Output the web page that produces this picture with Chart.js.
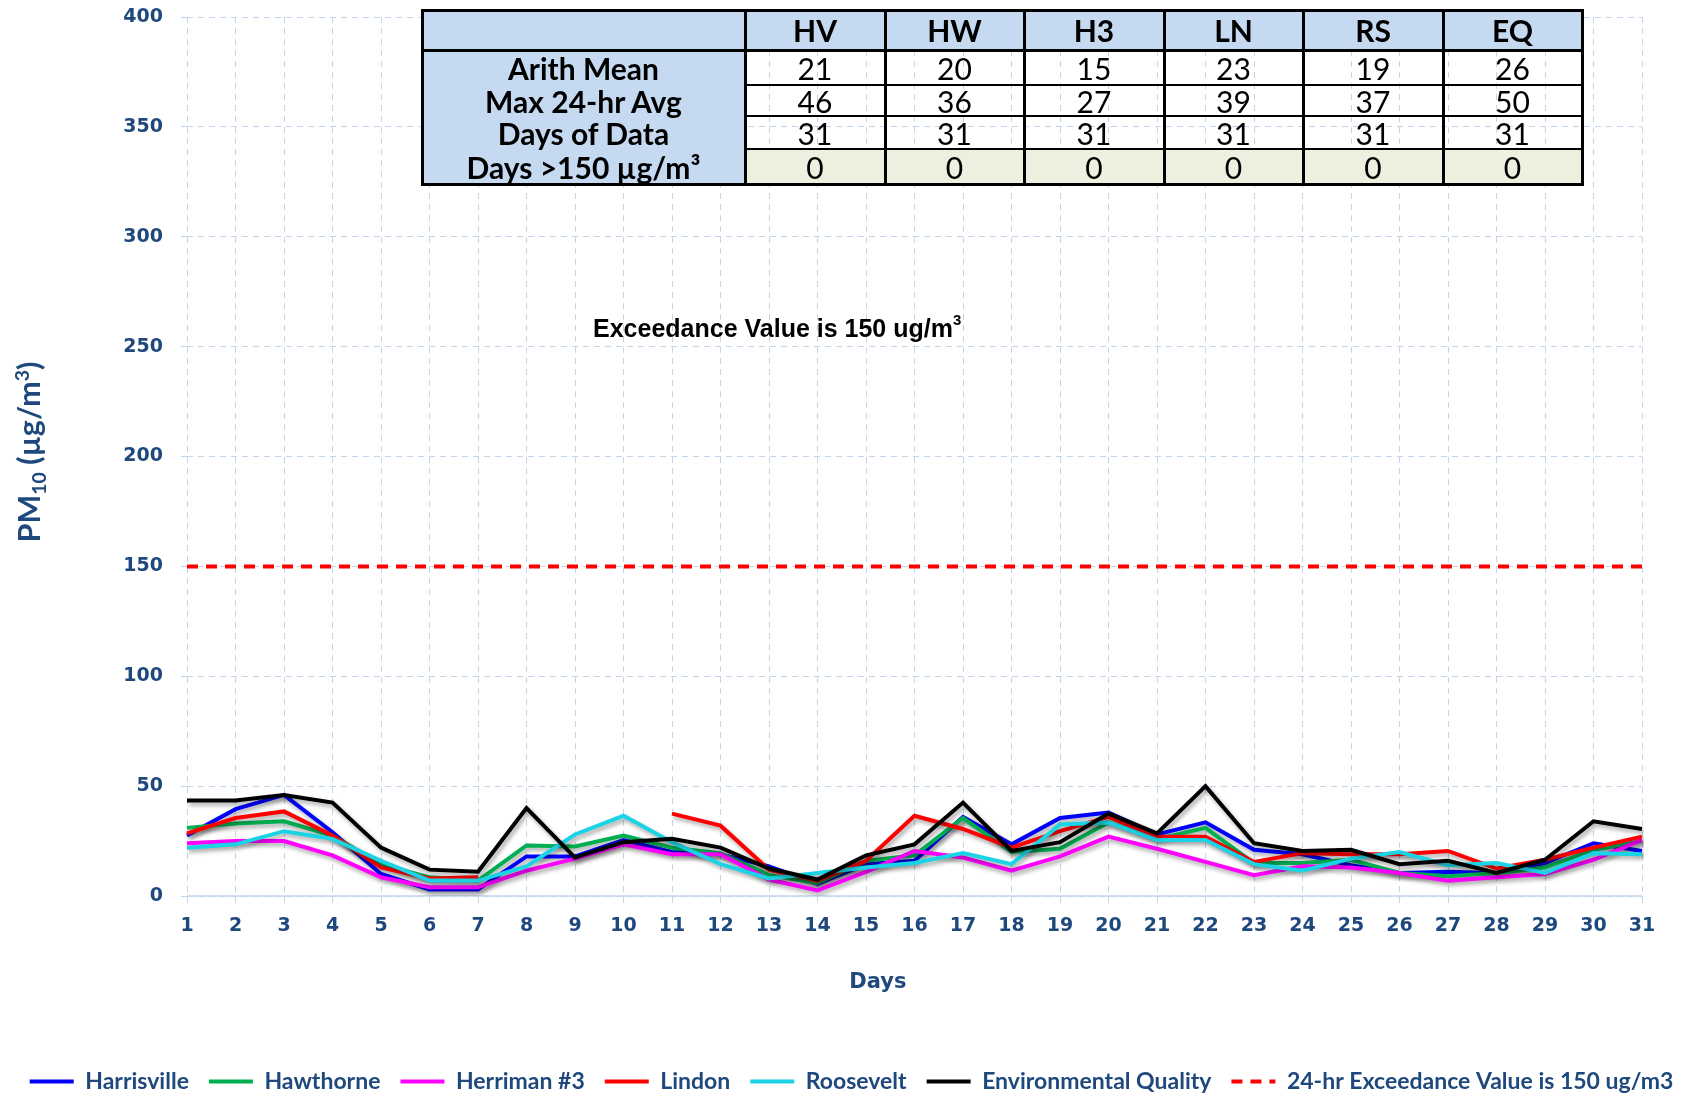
<!DOCTYPE html>
<html><head><meta charset="utf-8">
<script src="https://cdn.jsdelivr.net/npm/chart.js@4/dist/chart.umd.min.js"></script>
<style>
html,body{margin:0;padding:0;background:#fff;}
#wrap{position:relative;width:1703px;height:1098px;}
#c{position:absolute;left:0;top:0;}
#overlay{position:absolute;left:0;top:0;width:1703px;height:1098px;pointer-events:none;}
.cell{position:absolute;display:flex;align-items:center;justify-content:center;font-family:Lato,"Open Sans",sans-serif;font-size:30px;color:#000;white-space:nowrap;}
.bold{font-weight:bold;}
.ln{position:absolute;background:#000;}
#note{position:absolute;left:593px;top:314px;font:bold 25px "Liberation Sans",Arial,sans-serif;color:#000;white-space:nowrap;}
#note sup{font-size:15px;vertical-align:top;position:relative;top:-3px;}
</style></head>
<body><div id="wrap"><canvas id="c" width="1703" height="1098"></canvas><div id="overlay"></div><div id="note">Exceedance Value is 150 ug/m<sup>3</sup></div></div>
<script>
// ---- data ----
const days = ['1','2','3','4','5','6','7','8','9','10','11','12','13','14','15','16','17','18','19','20','21','22','23','24','25','26','27','28','29','30','31'];
const harrisville = [27.5,39.5,46,29,10,3,3,18,18,25.5,20,19,13.5,5.5,14.5,16,36,23.5,35.5,38,28,33.5,21,19,14,10.5,11,10.5,15,24,20.5];
const hawthorne   = [31,33,34,27.5,14.5,8.5,7,23,22.5,27.5,22,19.5,9.5,6,16,18.5,35.5,20,21.5,33.5,26,31,15,15,16.5,10.5,9,10.5,13,21,25];
const herriman3   = [24,25,25,18.5,8.5,4,4,11.5,17,23.5,19,19,7.5,2.5,11,20.5,17.5,11.5,18,27,21.5,15.5,9.5,13.5,13,10.5,7,8.5,10,16.5,25.5];
const lindon      = [28.5,35.5,38.5,27.5,13,8,8.5,null,null,null,37.5,32,12,7,16,36.5,30.5,22,29.5,36,27,27,15.5,19.5,19,19,20.5,12.5,16.5,22,27];
const roosevelt   = [22,23.5,29.5,26,16,7,7,13.5,28,36.5,24.5,14.5,8,10.5,13,15,19.5,14.5,32.5,33.5,25.5,25.5,14.5,11.5,17,20,14,15,10.5,19.5,19];
const envQuality  = [43.5,43.5,46,42.5,22,12,11,40,17.5,24.5,26,22,12.5,7.5,18.5,23.5,42.5,20.5,24.5,37.5,28.5,50,24,20.5,21,14.5,16,10.5,16.5,34,30.5];
const exceedance  = days.map(() => 150);
const seriesNames = ['Harrisville','Hawthorne','Herriman #3','Lindon','Roosevelt','Environmental Quality','24-hr Exceedance Value is 150 ug/m3'];
const yTicks = [0,50,100,150,200,250,300,350,400];

// table data
const stations   = ['HV','HW','H3','LN','RS','EQ'];
const rowLabels  = ['Arith Mean','Max 24-hr Avg','Days of Data','Days >150 µg/m³'];
const arithMean  = [21,20,15,23,19,26];
const max24hr    = [46,36,27,39,37,50];
const daysOfData = [31,31,31,31,31,31];
const daysOver   = [0,0,0,0,0,0];

// ---- styles ----
const colors = ['#0000ff','#00b050','#ff00ff','#ff0000','#1ad3e5','#000000','#ff0000'];
const textBlue = '#1f497d';
const gridBlue = '#c3d5ea';

const seriesData = [harrisville,hawthorne,herriman3,lindon,roosevelt,envQuality];
const datasets = seriesData.map((d,i) => ({
  label: seriesNames[i], data: d, borderColor: colors[i], backgroundColor: colors[i],
  borderWidth: 4, pointRadius: 0, tension: 0, fill: false, spanGaps: false, order: 10 - i
}));
datasets.push({label: seriesNames[6], data: exceedance, borderColor: colors[6], backgroundColor: colors[6],
  borderWidth: 4, borderDash: [11, 8], pointRadius: 0, fill: false, order: 0});

const shadowPlugin = {
  id: 'shadow',
  beforeDatasetDraw(chart, args) {
    if (args.index > 5) return;
    const ctx = chart.ctx; ctx.save();
    ctx.shadowColor = 'rgba(0,0,0,0.35)'; ctx.shadowBlur = 4; ctx.shadowOffsetX = 2; ctx.shadowOffsetY = 3;
  },
  afterDatasetDraw(chart, args) { if (args.index > 5) return; chart.ctx.restore(); }
};
const baseLine = {
  id: 'baseLine',
  beforeDatasetsDraw(chart) {
    const {ctx, chartArea: a} = chart; ctx.save();
    ctx.strokeStyle = gridBlue; ctx.lineWidth = 1.5; ctx.setLineDash([]);
    ctx.beginPath(); ctx.moveTo(a.left, a.bottom); ctx.lineTo(a.right, a.bottom); ctx.stroke(); ctx.restore();
  }
};
// rotated y-axis title with true subscript / superscript
const yTitle = {
  id: 'yTitle',
  afterDraw(chart) {
    const ctx = chart.ctx;
    const parts = [['PM', 0, 1], ['10', 1, 0.64], [' (µg/m', 0, 1], ['3', -1, 0.64], [')', 0, 1]];
    const target = 181, cx = 29, cy = 452;
    ctx.save();
    const measure = s => { let t = 0; parts.forEach(p => { ctx.font = `bold ${s * p[2]}px Lato`; t += ctx.measureText(p[0]).width; }); return t; };
    const size = 28 * target / measure(28);
    const total = measure(size);
    ctx.fillStyle = textBlue; ctx.textBaseline = 'alphabetic'; ctx.textAlign = 'left';
    ctx.translate(cx, cy); ctx.rotate(-Math.PI / 2);
    let x = -total / 2; const baseY = size * 0.36;
    parts.forEach(p => {
      ctx.font = `bold ${size * p[2]}px Lato`;
      const dy = p[1] === 1 ? size * 0.2 : (p[1] === -1 ? -size * 0.36 : 0);
      ctx.fillText(p[0], x, baseY + dy);
      x += ctx.measureText(p[0]).width;
    });
    ctx.restore();
  }
};

new Chart(document.getElementById('c'), {
  type: 'line',
  data: { labels: days, datasets },
  plugins: [shadowPlugin, baseLine, yTitle],
  options: {
    responsive: false, animation: false,
    layout: { autoPadding: false, padding: { left: 0, right: 0, top: 17, bottom: -5 } },
    plugins: {
      legend: {
        position: 'bottom',
        labels: {
          sort: (a, b) => a.datasetIndex - b.datasetIndex,
          generateLabels: chart => {
            const items = Chart.defaults.plugins.legend.labels.generateLabels(chart);
            items.forEach(it => {
              const ds = chart.data.datasets[it.datasetIndex];
              it.lineDash = ds.borderDash || []; it.lineWidth = ds.borderWidth;
              it.strokeStyle = ds.borderColor; it.fillStyle = ds.borderColor; it.pointStyle = 'line';
            });
            return items;
          },
          font: { family: 'Lato', weight: 'bold', size: 23 }, color: textBlue,
          usePointStyle: true, pointStyle: 'line', pointStyleWidth: 44, boxWidth: 44, boxHeight: 6, padding: 20
        }
      },
      tooltip: { enabled: false }
    },
    scales: {
      x: {
        type: 'category', offset: false,
        grid: { color: gridBlue, lineWidth: 1, tickLength: 7, tickColor: gridBlue },
        border: { display: false, dash: [6, 5] },
        ticks: { autoSkip: false, maxRotation: 0, padding: 12, color: textBlue,
          font: { family: 'DejaVu Sans', weight: 'bold', size: 19 } },
        title: { display: true, text: 'Days          ', color: textBlue, padding: { top: 0, bottom: 55 },
          font: { family: 'DejaVu Sans', weight: 'bold', size: 21 } },
        afterFit: s => { s.height = 154; }
      },
      y: {
        min: 0, max: 400,
        afterBuildTicks: s => { s.ticks = yTicks.map(v => ({ value: v })); },
        grid: { color: gridBlue, lineWidth: 1, tickLength: 6, tickColor: gridBlue },
        border: { display: false, dash: [6, 5] },
        ticks: { padding: 18, color: textBlue, font: { family: 'DejaVu Sans', weight: 'bold', size: 19 } },
        title: { display: false },
        afterFit: s => { s.width = 187; s.paddingTop = 0; s.paddingBottom = 0; }
      },
      yRight: {
        position: 'right', display: true, min: 0, max: 400,
        grid: { display: false, drawTicks: false }, border: { display: false },
        ticks: { display: false },
        afterFit: s => { s.width = 61; s.paddingTop = 0; s.paddingBottom = 0; }
      }
    }
  }
});

// ---- summary table overlay ----
const colX = [422, 745, 885, 1024, 1164, 1303, 1443, 1582];
const rowY = [10, 50, 85, 116, 149, 184];
const ov = document.getElementById('overlay');
function box(x, y, w, h, bg, cls, html) {
  const d = document.createElement('div');
  d.className = cls || 'cell';
  Object.assign(d.style, { left: x + 'px', top: y + 'px', width: w + 'px', height: h + 'px' });
  if (bg) d.style.background = bg;
  if (html !== undefined) d.innerHTML = html;
  ov.appendChild(d); return d;
}
const L = colX[0], R = colX[colX.length - 1], T = rowY[0], B = rowY[rowY.length - 1];
box(L, T, R - L, rowY[1] - T, '#c5d9f1');
box(L, rowY[1], colX[1] - L, B - rowY[1], '#c5d9f1');
box(colX[1], rowY[4], R - colX[1], B - rowY[4], '#ebf1de');
stations.forEach((s, i) => box(colX[i + 1], T, colX[i + 2] - colX[i + 1], rowY[1] - T, null, 'cell bold', s));
const rows = [arithMean, max24hr, daysOfData, daysOver];
rowLabels.forEach((lab, r) => box(L, rowY[r + 1], colX[1] - L, rowY[r + 2] - rowY[r + 1], null, 'cell bold', lab));
rows.forEach((vals, r) => vals.forEach((v, i) =>
  box(colX[i + 1], rowY[r + 1], colX[i + 2] - colX[i + 1], rowY[r + 2] - rowY[r + 1], null, 'cell', String(v))));
// borders
box(L - 1, T - 1, R - L + 3, 3, null, 'ln');
box(L - 1, B - 1, R - L + 3, 3, null, 'ln');
colX.forEach(x => box(x - 1, T - 1, 3, B - T + 3, null, 'ln'));
box(L - 1, rowY[1] - 1, R - L + 3, 3, null, 'ln');
[rowY[2], rowY[3], rowY[4]].forEach(y => box(colX[1], y - 1, R - colX[1], 2, null, 'ln'));
</script>
</body></html>
